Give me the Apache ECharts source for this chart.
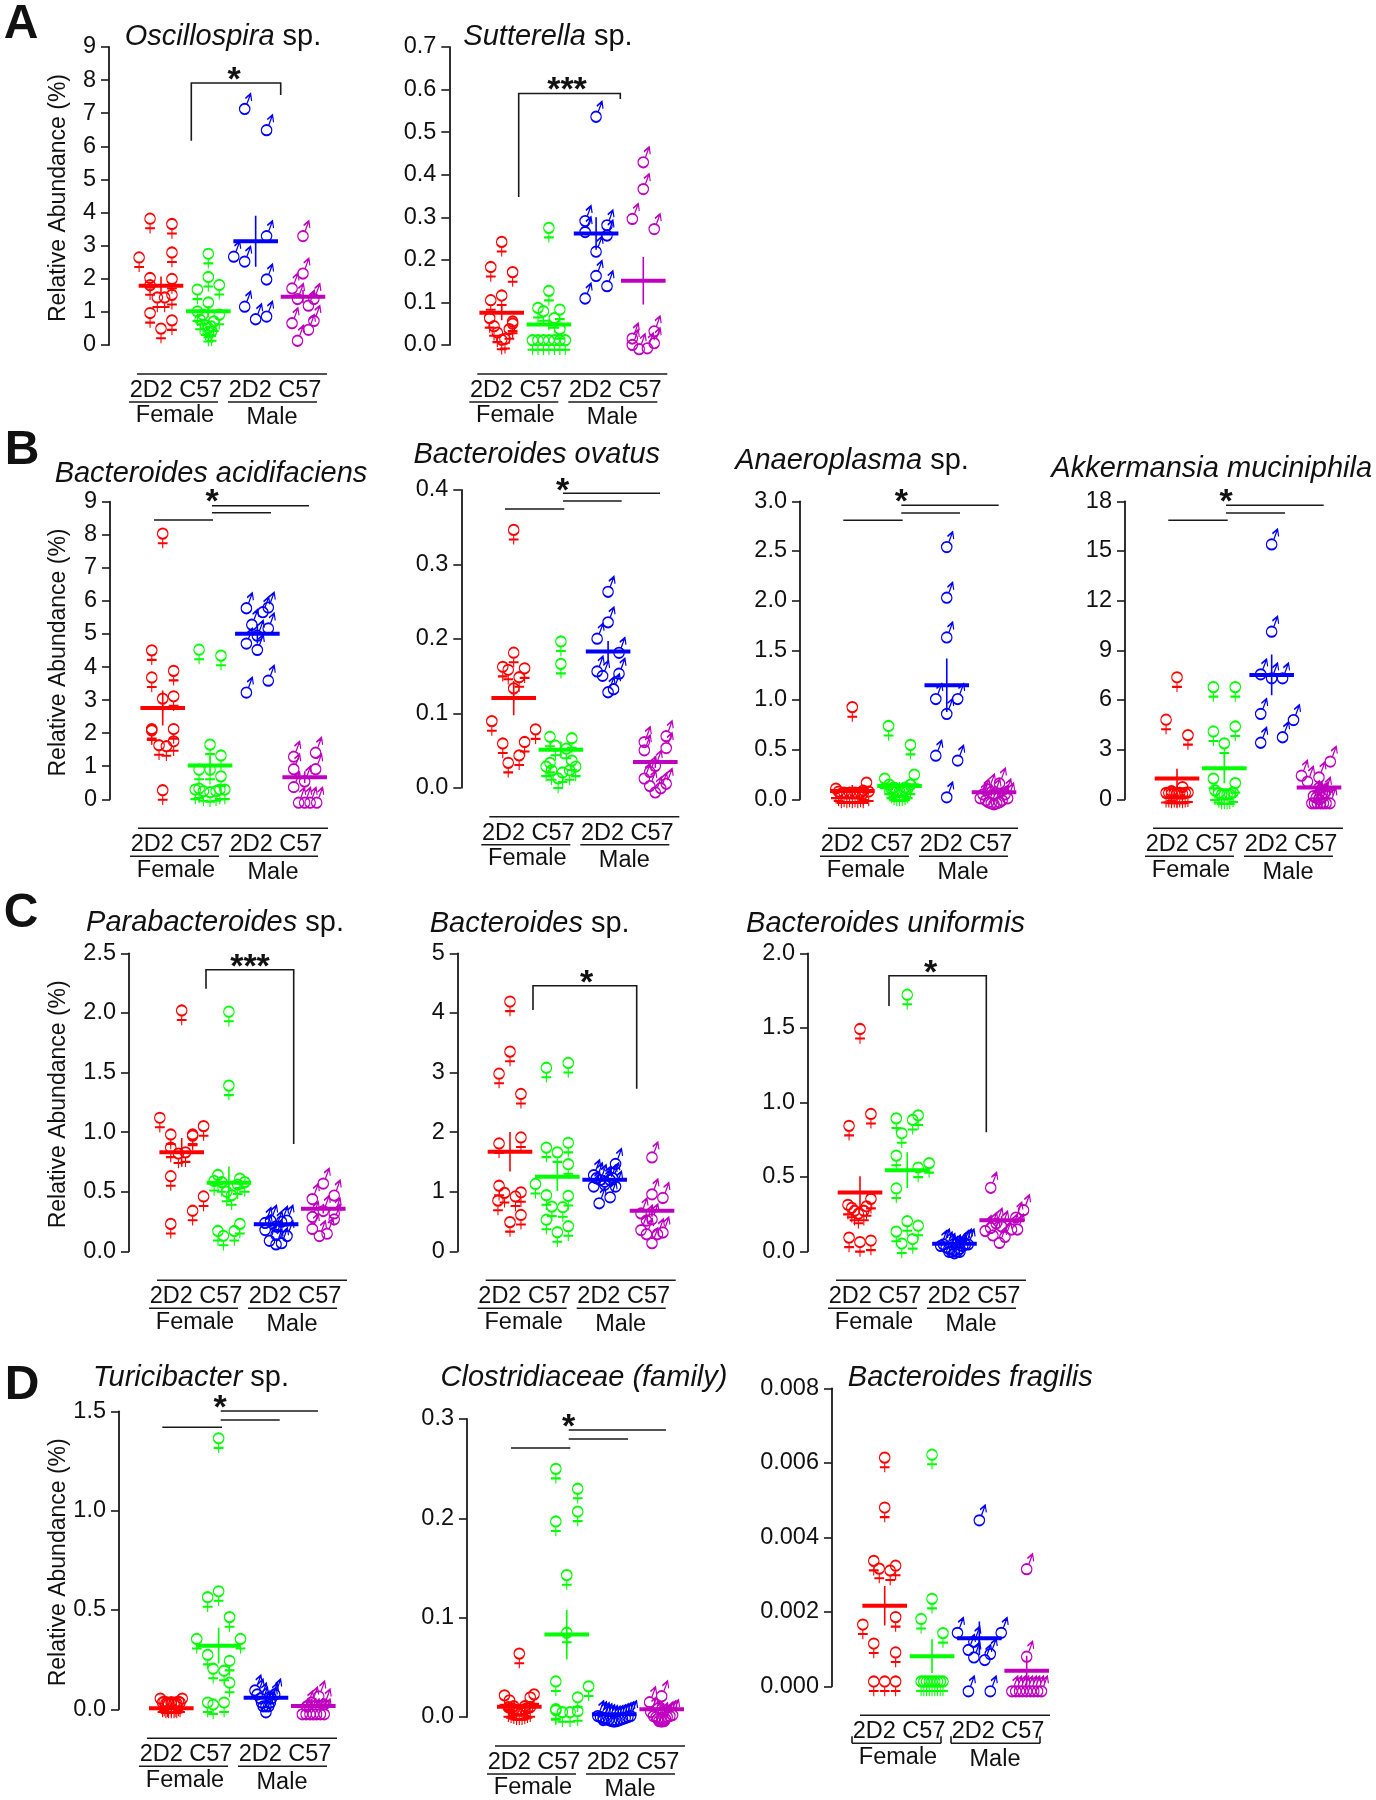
<!DOCTYPE html>
<html><head><meta charset="utf-8"><style>html,body{margin:0;background:#fff}#c{width:1376px;height:1800px}</style>
<script src="https://cdn.jsdelivr.net/npm/echarts@6/dist/echarts.min.js"></script></head><body><div id="c"></div><script>
// Each point is [swarm slot, value]. Groups: 2D2 female, C57 female, 2D2 male, C57 male.
const groupColors=['#ff0000','#00ff00','#0000ff','#bf00bf'];
const oscR=[[-2,3.67],[2,3.51],[-4,2.5],[2,2.65],[-2,1.88],[2,1.85],[-2,1.66],[-.67,1.29],[.67,1.29],[2,1.37],[-2,.82],[2,.6],[0,.35]];
const oscG=[[0,2.61],[0,1.91],[-2,1.53],[2,1.67],[0,1.14],[-2,.87],[-1,.77],[2,.77],[1,.57],[-1.5,.62],[0,.37],[.6,.27],[0,.25],[-.5,.45],[.5,.42]];
const oscB=[[-2,7.28],[2,6.64],[2,3.44],[-4,2.82],[-2,2.67],[2,2.13],[-2,1.31],[0,.93],[2,1.01]];
const oscM=[[0,3.44],[0,2.31],[-2,1.86],[-1,1.54],[2,1.54],[1,1.34],[-2,.81],[2,.88],[1,.61],[-1,.28]];
const oscMean=[1.79,1.02,3.13,1.46], oscErr=[.28,.15,.77,.2];
const sutR=[[0,.231],[-2,.172],[2,.16],[-2,.094],[0,.105],[-2.2,.052],[-1.4,.033],[2,.044],[2,.039],[-.8,.018],[1.4,.026],[0,.001],[.6,.003]];
const sutG=[[0,.264],[0,.116],[-2,.076],[-1,.068],[2,.072],[1,.052],[2,.026],[-3,0],[-2,0],[-1,0],[0,0],[1,0],[2,0],[3,0]];
const sutB=[[0,.548],[-2,.303],[2,.293],[-2,.277],[2,.269],[0,.231],[0,.174],[2,.15],[-2,.121]];
const sutM=[[0,.441],[0,.378],[-2,.308],[2,.284],[2,.044],[-2,.027],[-2,.012],[2,.016],[-.75,.002],[.75,.004]];
const sutMean=[.076,.048,.262,.151], sutErr=[.018,.012,.038,.056];
const acidR=[[0,7.89],[-2,4.36],[-2,3.54],[2,3.74],[0,2.9],[2,2.97],[-2,1.98],[-2,1.94],[2,1.98],[2,1.61],[-.67,1.49],[.67,1.46],[0,.13]];
const acidG=[[-2,4.38],[2,4.2],[0,1.51],[2,1.18],[-2,.75],[0,.75],[2,.55],[-2.7,.15],[-2,.18],[-1.2,.1],[0,.07],[1.1,.1],[1.8,.15],[2.7,.15]];
const acidB=[[-2,5.93],[2,5.95],[1,5.81],[-1,5.43],[2,5.32],[-2,4.86],[0,4.67],[2,3.74],[-2,3.38],[0,5.1]];
const acidM=[[-2,1.44],[2,1.56],[-2,1.06],[2,1.06],[0,.69],[-2,.52],[-1.1,.05],[0,.05],[1,.05],[2.2,.05]];
const acidMean=[2.76,1.02,5.01,.67], acidErr=[.53,.3,.3,.18];
const ovaR=[[0,.34],[0,.175],[-2,.156],[-1,.152],[2,.154],[1,.142],[0,.127],[-4,.083],[-2,.053],[2,.055],[4,.072],[1,.037],[-1,.027]];
const ovaG=[[0,.19],[0,.16],[-2,.062],[2,.06],[-1,.05],[1,.046],[2,.03],[-2,.027],[-2.7,.022],[2.7,.022],[-1.7,.017],[.3,.014],[1.6,.017],[-.5,.006]];
const ovaB=[[0,.27],[0,.229],[-2,.207],[2,.188],[-2,.163],[-1,.157],[2,.16],[1,.139],[0,.135]];
const ovaM=[[-2,.068],[-2,.057],[2,.076],[2,.06],[0,.036],[-2,.019],[-1,.009],[0,.0004],[1,.006],[2,.012],[-1,.028]];
const ovaMean=[.1205,.051,.183,.0345], ovaErr=[.023,.011,.014,.008];
const anaR=[[0,.88],[-3,.06],[2.6,.12],[2,.04],[-2.5,.03],[-2,.01],[-1,.01],[0,.01],[1,.01],[2,.01],[3,.03],[-1.5,.02],[-.5,.02],[.5,.02],[1.5,.02]];
const anaG=[[-2,.69],[2,.5],[-2.7,.16],[2.7,.2],[-1.9,.1],[2,.1],[-1.5,.06],[-1,.04],[-.5,.03],[0,.03],[.5,.03],[1,.04],[1.5,.06],[-1,.07],[1,.07]];
const anaB=[[0,2.59],[0,2.08],[0,1.68],[-2,1.06],[2,1.06],[0,.91],[-2,.49],[2,.44],[0,.07]];
const anaM=[[1,.21],[-1,.15],[-2,.1],[2,.1],[0,.1],[-2.5,.06],[2.5,.06],[-1.5,.04],[1.5,.04],[-1,.02],[-.5,.01],[0,0],[.5,.01],[1,.02]];
const anaMean=[.084,.134,1.148,.07], anaErr=[.06,.04,.27,.03];
const akkR=[[0,7.08],[-2,4.52],[2,3.59],[-2,.1],[-1,.2],[0,.05],[1,.45],[2,.13],[-1.5,.1],[-.5,.1],[.5,.1],[1.5,.1],[-1,.05],[0,.1],[1,.05]];
const akkG=[[-2,6.49],[2,6.49],[-2,3.81],[2,4.11],[0,3.09],[-2,.96],[2,.69],[-1.7,.25],[-1,.09],[-.5,0],[0,0],[.5,0],[1,.01],[1.6,.13]];
const akkB=[[0,15.7],[0,10.43],[-2,7.85],[0,7.61],[2,7.61],[-2,5.46],[4,5.09],[2,4.05],[-2,3.72]];
const akkM=[[2.07,2.58],[-3.2,1.73],[0,1.63],[-2.1,1.37],[-1.3,.06],[-.8,.06],[-.3,.06],[.3,.06],[.8,.06],[1.3,.06],[2,.06],[-.5,.4],[.5,.4],[1,.7],[-1,.5],[0,.3]];
const akkMean=[1.25,1.87,7.51,.72], akkErr=[.6,.9,1.23,.2];
const paraR=[[0,1.98],[-4,1.08],[-2,.94],[2,.94],[2,.93],[4,1.01],[-2,.83],[-.6,.78],[.7,.79],[-2,.59],[4,.42],[2,.3],[-2,.19]];
const paraG=[[0,1.97],[0,1.35],[-2,.6],[2,.57],[-2.7,.55],[-1.3,.54],[1.6,.52],[2.9,.54],[-.4,.46],[.5,.43],[-2,.13],[-1,.09],[1,.13],[2,.19]];
const paraB=[[-2,.28],[-1,.3],[2,.3],[1,.29],[0,.25],[2,.17],[-1.2,.13],[0,.1],[1,.11],[-2,.22],[0,.18]];
const paraM=[[0,.61],[2,.51],[-2,.48],[0,.38],[2,.36],[-2,.33],[2,.31],[-2,.23],[-.7,.17],[.7,.19]];
const paraMean=[.83,.576,.227,.358], paraErr=[.12,.135,.03,.04];
const bspR=[[0,4.11],[0,3.27],[-2,2.9],[2,2.56],[2,1.83],[-2,1.73],[-2,1.02],[-1,.9],[2,.91],[1,.84],[-2.2,.77],[2,.53],[0,.41]];
const bspG=[[-2,3],[2,3.08],[-2,1.66],[2,1.74],[0,1.58],[2,1.38],[-4,1.05],[-2,.86],[2,.85],[-1,.67],[1,.66],[-2,.45],[2,.34],[0,.24]];
const bspB=[[2,1.55],[-2,1.36],[-2,1.17],[-1,.89],[1,.99],[2,1.17],[-.8,1.28],[0,1.25],[1,1.28],[-1.5,1.31],[1.5,1.31],[0,1.2]];
const bspM=[[0,1.66],[0,1.04],[2,.98],[-2,.72],[0,.62],[-2,.44],[-1,.37],[1,.37],[2,.4],[0,.22],[-1,.6]];
const bspMean=[1.67,1.25,1.2,.68], bspErr=[.33,.24,.08,.1];
const uniR=[[0,1.46],[-2,.81],[2,.89],[-2.2,.28],[-1.5,.26],[2,.32],[1.2,.27],[-.3,.22],[.7,.24],[-1,.24],[-2,.06],[0,.03],[2,.04]];
const uniG=[[0,1.69],[-2,.86],[2,.88],[1,.85],[-1,.76],[-2,.61],[4,.56],[2,.53],[-2,.39],[0,.17],[2,.14],[-2,.1],[1,.05],[-1,.02]];
const uniB=[[-2,.08],[2,.08],[-1.5,.06],[1.5,.07],[-1,.05],[1,.05],[-.5,.03],[.5,.03],[0,.02],[-2.5,.07],[2.5,.08],[-1,.03],[1,.03],[0,.04]];
const uniM=[[-2,.46],[4,.31],[-3,.17],[-2,.19],[-1.6,.14],[-.4,.09],[.6,.13],[1.8,.18],[2.9,.18],[0,.2],[2.6,.26],[-1,.22]];
const uniMean=[.394,.544,.05,.208], uniErr=[.11,.12,.01,.03];
const turR=[[-2,.03],[2,.03],[-1.6,.01],[1.6,.01],[-1,.005],[1,.005],[-.5,.005],[.5,.005],[0,.005],[-1.3,.015],[1.3,.015],[-.7,.01],[.7,.01],[0,.012]];
const turG=[[0,1.34],[-2,.54],[0,.57],[2,.44],[-4,.33],[4,.33],[-2,.25],[2,.22],[-1,.18],[1,.17],[2,.11],[-2,.01],[-1,0],[1,.01]];
const turB=[[-2,.12],[-1,.08],[1,.08],[-.5,.04],[.5,.04],[0,.01],[-1.6,.1],[1.6,.1],[-.8,.06],[.8,.06],[0,.04]];
const turM=[[1,.09],[-2,0],[-1.3,0],[-.6,0],[0,0],[.6,0],[1.3,0],[2,0],[-.3,.06],[2,.05],[-1.2,.04]];
const turMean=[.005,.32,.058,.017], turErr=[.01,.09,.01,.01];
const cloR=[[0,.059],[-2.7,.017],[-1.8,.012],[2,.015],[2.7,.018],[-2,.005],[-1.5,.004],[-1,.003],[-.5,.002],[0,.002],[.5,.002],[1,.003],[1.5,.004],[2,.005],[-1,.006],[1,.006]];
const cloG=[[-2,.245],[2,.225],[2,.202],[-2,.192],[0,.138],[0,.08],[-2,.031],[4,.026],[2,.015],[-2,.003],[-2,.002],[-.8,0],[.6,0],[2,.001]];
const cloB=[[-3,.006],[3,.006],[-2.5,.005],[2.5,.005],[-2,.004],[2,.004],[-1.5,.003],[1.5,.003],[-1,.002],[1,.002],[-.5,.001],[.5,.001],[0,.0005],[-2,.002]];
const cloM=[[-2.2,.02],[0,.026],[2,.007],[-1,.005],[1,.005],[-.5,.001],[.5,.001],[0,.0005],[-1.5,.006],[1.5,.006],[0,.004],[-.7,.003],[.7,.003],[-2,.01]];
const cloMean=[.0104,.083,.0027,.0077], cloErr=[.003,.025,.001,.002];
const fraR=[[0,.00601],[0,.00467],[-2,.00324],[-1,.00303],[1,.00298],[2,.00311],[2,.00173],[-4,.00153],[-2,.00102],[2,.00078],[-2,0],[0,0],[2,0]];
const fraG=[[0,.00609],[0,.00222],[-2,.00168],[2,.0013],[-2,0],[-1.5,0],[-1,0],[-.5,0],[0,0],[.5,0],[1,0],[1.5,0],[2,0]];
const fraB=[[0,.00459],[-4,.00157],[4,.00157],[-1,.00133],[-2,.00111],[2,.001],[-1,.00091],[1,.00084],[-2,0],[2,0]];
const fraM=[[0,.00328],[0,.00093],[-2.7,0],[-2,0],[-1.3,0],[-.7,0],[0,0],[.7,0],[1.3,0],[2,0],[2.7,0]];
const fraMean=[.00216,.00081,.00129,.00042], fraErr=[.00053,.00045,.00045,.0004];
const categoryLabel='2D2 C57', sexLabels=['Female','Male'], yLabel='Relative Abundance (%)';

const FEMALE='path://M0 5A5 5 0 1 1 10 5A5 5 0 1 1 0 5ZM5 10L5 19.3M.35 14.3L9.65 14.3';
const MALE='path://M0 14.7A5 5 0 1 1 10 14.7A5 5 0 1 1 0 14.7ZM7 10.1L10.7 0M5.7 4.4L10.7 0L11.7 7';
const FONT='"Liberation Sans",Arial,sans-serif', INK='#1a1a1a', SLOTPX=5.47;

const panels=[
{g:[oscR,oscG,oscB,oscM],m:oscMean,e:oscErr,it:'Oscillospira',no:' sp.',tx:223,ty:35,ax:109,top:47,y0:345,cx:[161,208,256,303],max:9,iv:1,dec:0,yl:1,
 br:{x1:191.3,b1:140.7,t:83,x2:280.7,b2:95,sx:234,sy:74,s:'*'}},
{g:[sutR,sutG,sutB,sutM],m:sutMean,e:sutErr,it:'Sutterella',no:' sp.',tx:548,ty:35,ax:449.3,top:47,y0:345,cx:[501.7,549,596,643.3],max:.7,iv:.1,dec:1,
 br:{x1:518.7,b1:197,t:93.5,x2:620.3,b2:99,sx:567,sy:84,s:'***'}},
{g:[acidR,acidG,acidB,acidM],m:acidMean,e:acidErr,it:'Bacteroides acidifaciens',no:'',tx:211,ty:472,ax:110,top:501.7,y0:799.3,cx:[162.7,210,257.3,304.7],max:9,iv:1,dec:0,yl:1,
 tr:{l:[154,213,520],mi:[212,271,512.7],u:[212,309,505.7],sx:212,sy:496}},
{g:[ovaR,ovaG,ovaB,ovaM],m:ovaMean,e:ovaErr,it:'Bacteroides ovatus',no:'',tx:536.7,ty:452.7,ax:461.3,top:490,y0:787.7,cx:[513.7,561,608,655.3],max:.4,iv:.1,dec:1,
 tr:{l:[505,564.3,509],mi:[563,621.7,501],u:[563,660,493.3],sx:562.7,sy:485}},
{g:[anaR,anaG,anaB,anaM],m:anaMean,e:anaErr,it:'Anaeroplasma',no:' sp.',tx:852,ty:459,ax:800,top:501.3,y0:799.3,cx:[852.3,899.3,946.7,994],max:3,iv:.5,dec:1,
 tr:{l:[843.3,902.7,520.3],mi:[901.3,960,513],u:[901.3,998.7,505.3],sx:901.3,sy:496}},
{g:[akkR,akkG,akkB,akkM],m:akkMean,e:akkErr,it:'Akkermansia muciniphila',no:'',tx:1211.7,ty:467,ax:1125,top:501.3,y0:799.3,cx:[1177,1224.3,1271.7,1319],max:18,iv:3,dec:0,
 tr:{l:[1168.3,1227.7,520.3],mi:[1226,1285,513],u:[1226,1323.7,505.3],sx:1226,sy:496}},
{g:[paraR,paraG,paraB,paraM],m:paraMean,e:paraErr,it:'Parabacteroides',no:' sp.',tx:215,ty:920.7,ax:129,top:953.3,y0:1251.3,cx:[181.7,229,276.3,323.3],max:2.5,iv:.5,dec:1,yl:1,
 br:{x1:206,b1:988.7,t:969.7,x2:293.7,b2:1144,sx:250,sy:961,s:'***'}},
{g:[bspR,bspG,bspB,bspM],m:bspMean,e:bspErr,it:'Bacteroides',no:' sp.',tx:529.7,ty:922,ax:457.7,top:953.3,y0:1251.3,cx:[510,557.3,604.7,652],max:5,iv:1,dec:0,
 br:{x1:533,b1:1010,t:985.7,x2:636.7,b2:1088.7,sx:586.7,sy:977,s:'*'}},
{g:[uniR,uniG,uniB,uniM],m:uniMean,e:uniErr,it:'Bacteroides uniformis',no:'',tx:885.5,ty:922,ax:808,top:953.3,y0:1251.3,cx:[860,907.3,954.7,1001.7],max:2,iv:.5,dec:1,
 br:{x1:889,b1:1006,t:975.7,x2:986.3,b2:1132.3,sx:930.7,sy:967,s:'*'}},
{g:[turR,turG,turB,turM],m:turMean,e:turErr,it:'Turicibacter',no:' sp.',tx:191,ty:1376,ax:119,top:1411.3,y0:1709.3,cx:[171.3,218.7,266,313.3],max:1.5,iv:.5,dec:1,yl:1,
 tr:{l:[162.3,222,1427.3],mi:[220.7,279.7,1420],u:[220.7,318,1411],sx:220,sy:1401.7}},
{g:[cloR,cloG,cloB,cloM],m:cloMean,e:cloErr,it:'Clostridiaceae (family)',no:'',tx:584,ty:1376,ax:467,top:1419,y0:1717,cx:[519.3,567,614.3,661.7],max:.3,iv:.1,dec:1,
 tr:{l:[511,570.3,1448],mi:[568.7,628,1439],u:[568.7,666,1430],sx:568.7,sy:1420.7}},
{g:[fraR,fraG,fraB,fraM],m:fraMean,e:fraErr,it:'Bacteroides fragilis',no:'',tx:970.3,ty:1376,ax:832,top:1388.3,y0:1686.3,cx:[884.7,932,979.3,1026.7],max:.008,iv:.002,dec:3,ends:1}
];
const letters=[['A',21,25],['B',22,451],['C',21,914],['D',22,1386]];

const grid=[],xAxis=[],yAxis=[],series=[],title=[],graphic=[];
const line=(x1,y1,x2,y2,w)=>graphic.push({type:'line',silent:true,shape:{x1,y1,x2,y2},style:{stroke:INK,lineWidth:w||1.6}});
const text=(t,x,y,font)=>graphic.push({type:'text',silent:true,x,y,style:{text:t,font,fill:'#111',align:'center',verticalAlign:'middle'}});
panels.forEach((p,i)=>{
  const sp=(p.cx[3]-p.cx[0])/3, xmin=-(p.cx[0]-p.ax)/sp, xmax=3.8, slot=SLOTPX/sp, half=22.3/sp;
  grid.push({left:p.ax,top:p.top,width:(xmax-xmin)*sp,height:p.y0-p.top,containLabel:false});
  xAxis.push({gridIndex:i,type:'value',min:xmin,max:xmax,show:false});
  const yax={gridIndex:i,type:'value',min:0,max:p.max,interval:p.iv,splitLine:{show:false},
    axisLine:{show:true,onZero:false,lineStyle:{color:INK,width:1.8}},
    axisTick:{show:true,length:8,lineStyle:{color:INK,width:1.6}},
    axisLabel:{show:true,margin:13,padding:[4,0,0,0],fontFamily:FONT,fontSize:23.5,color:'#111',formatter:v=>(+v).toFixed(p.dec),showMinLabel:true,showMaxLabel:true}};
  if(p.yl)Object.assign(yax,{name:yLabel,nameLocation:'middle',nameRotate:90,nameGap:p.ax-57-13.5,nameMoveOverlap:false,nameTextStyle:{fontFamily:FONT,fontSize:23,color:'#111',padding:[0,4,0,0]}});
  yAxis.push(yax);
  p.g.forEach((pts,k)=>{
    const c=groupColors[k], male=k>1;
    series.push({type:'scatter',xAxisIndex:i,yAxisIndex:i,clip:false,silent:true,animation:false,
      symbol:male?MALE:FEMALE,symbolSize:male?[12.2,20.4]:[10.5,19.8],symbolOffset:male?[.85,0]:[0,0],
      itemStyle:{color:'transparent',borderColor:c,borderWidth:1.5,opacity:1},
      data:pts.map(d=>[k+d[0]*slot,d[1]])});
    const lbase={type:'line',xAxisIndex:i,yAxisIndex:i,clip:false,silent:true,animation:false,symbol:'none',z:3};
    series.push(Object.assign({},lbase,{lineStyle:{color:c,width:1.6},data:[[k,Math.max(0,p.m[k]-p.e[k])],[k,p.m[k]+p.e[k]]]}));
    series.push(Object.assign({},lbase,{lineStyle:{color:c,width:4},data:[[k-half,p.m[k]],[k+half,p.m[k]]]}));
  });
  title.push({text:'{i|'+p.it+'}'+(p.no?'{n|'+p.no+'}':''),left:p.tx,top:p.ty+2,textAlign:'center',textVerticalAlign:'middle',padding:0,
    textStyle:{fontWeight:'normal',rich:{i:{fontFamily:FONT,fontStyle:'italic',fontWeight:'normal',fontSize:29,color:'#111'},n:{fontFamily:FONT,fontWeight:'normal',fontSize:29,color:'#111'}}}});
  const a=p.ax,y=p.y0;
  line(a+28,y+29,a+218,y+29);
  text(categoryLabel,a+67,y+45.5,'23.5px '+FONT);
  text(categoryLabel,a+166,y+45.5,'23.5px '+FONT);
  line(a+20,y+57,a+109,y+57); line(a+119,y+57,a+208,y+57);
  if(p.ends){line(a+20,y+50,a+20,y+57);line(a+109,y+50,a+109,y+57);line(a+119,y+50,a+119,y+57);line(a+208,y+50,a+208,y+57);}
  text(sexLabels[0],a+66,y+71,'23.5px '+FONT);
  text(sexLabels[1],a+163,y+73,'23.5px '+FONT);
  if(p.br){const b=p.br;
    graphic.push({type:'polyline',silent:true,shape:{points:[[b.x1,b.b1],[b.x1,b.t],[b.x2,b.t],[b.x2,b.b2]]},style:{stroke:INK,lineWidth:1.6,fill:'none'}});
    text(b.s,b.sx,b.sy+7,'bold 34px '+FONT);}
  if(p.tr){const t=p.tr;
    [t.l,t.mi,t.u].forEach(r=>line(r[0],r[2],r[1],r[2]));
    text('*',t.sx,t.sy+7,'bold 34px '+FONT);}
});
letters.forEach(l=>text(l[0],l[1],l[2],'bold 48px '+FONT));
const chart=echarts.init(document.getElementById('c'));
chart.setOption({animation:false,backgroundColor:'#fff',grid,xAxis,yAxis,series,title,graphic:{elements:graphic}});
</script></body></html>
